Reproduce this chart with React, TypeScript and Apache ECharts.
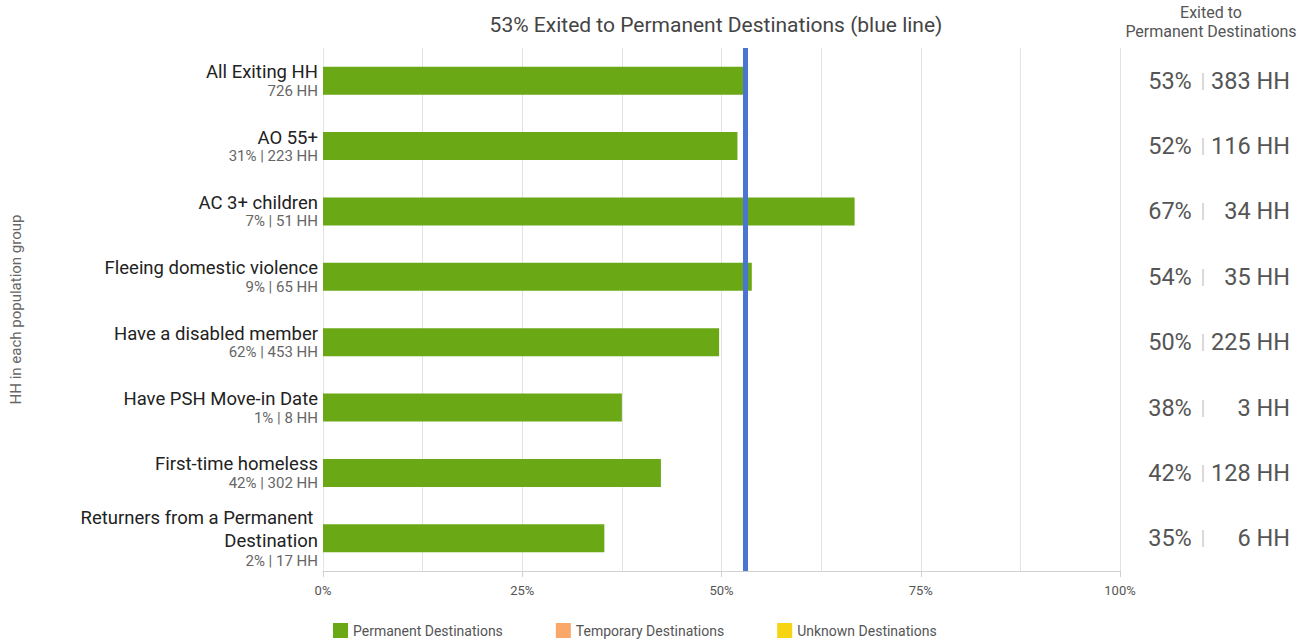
import React, { useEffect, useRef } from "react";
import * as echarts from "echarts";

const categories = [
  "All Exiting HH",
  "AO 55+",
  "AC 3+ children",
  "Fleeing domestic violence",
  "Have a disabled member",
  "Have PSH Move-in Date",
  "First-time homeless",
  "Returners from a Permanent Destination",
];
const subLabels = [
  "726 HH",
  "31% | 223 HH",
  "7% | 51 HH",
  "9% | 65 HH",
  "62% | 453 HH",
  "1% | 8 HH",
  "42% | 302 HH",
  "2% | 17 HH",
];
const permanentPct = [52.8, 52.0, 66.7, 53.8, 49.7, 37.5, 42.4, 35.3];
const temporaryPct = [0, 0, 0, 0, 0, 0, 0, 0];
const unknownPct = [0, 0, 0, 0, 0, 0, 0, 0];
const exitedPctLabels = ["53%", "52%", "67%", "54%", "50%", "38%", "42%", "35%"];
const exitedHHLabels = ["383 HH", "116 HH", "34 HH", "35 HH", "225 HH", "3 HH", "128 HH", "6 HH"];
const overallPct = 53;

export default function App() {
  const ref = useRef<HTMLDivElement>(null);
  useEffect(() => {
    document.body.style.margin = "0";
    const chart = echarts.init(ref.current!, null, { renderer: "svg" });
    const leftLabel = (value: string, idx: number) => {
      if (value === "Returners from a Permanent Destination") {
        return `{name2|Returners from a Permanent }\n{name2|Destination}\n{sub|${subLabels[idx]}}`;
      }
      return `{name|${value}}\n{sub|${subLabels[idx]}}`;
    };
    chart.setOption({
      animation: false,
      textStyle: { fontFamily: "Roboto" },
      title: [
        {
          text: "53% Exited to Permanent Destinations (blue line)",
          left: 711,
          top: 9,
          textAlign: "center",
          textStyle: { fontSize: 21, fontWeight: "normal", color: "#444", fontFamily: "Roboto" },
        },
        {
          text: "Exited to\nPermanent Destinations",
          left: 1206,
          top: -2,
          textAlign: "center",
          textStyle: { fontSize: 16, fontWeight: "normal", color: "#555", lineHeight: 19, fontFamily: "Roboto" },
        },
      ],
      legend: {
        left: 328,
        top: 618,
        itemWidth: 15,
        itemHeight: 15,
        itemGap: 53,
        icon: "rect",
        textStyle: { fontSize: 14, color: "#555" },
        data: ["Permanent Destinations", "Temporary Destinations", "Unknown Destinations"],
      },
      grid: { left: 321, right: 195, top: 48, bottom: 71, containLabel: false },
      xAxis: {
        type: "value",
        min: 0,
        max: 100,
        interval: 25,
        axisLine: { show: true, lineStyle: { color: "#d0d0d0" } },
        axisTick: { show: true, length: 6, lineStyle: { color: "#d0d0d0" } },
        splitLine: { show: true, lineStyle: { color: "#e3e3e3", width: 1 } },
        minorTick: { show: false, splitNumber: 2 },
        minorSplitLine: { show: true, lineStyle: { color: "#e3e3e3", width: 1 } },
        axisLabel: { formatter: "{value}%", color: "#555", fontSize: 13, margin: 13 },
      },
      yAxis: [
        {
          type: "category",
          data: categories,
          inverse: true,
          name: "HH in each population group",
          nameLocation: "middle",
          nameRotate: 90,
          nameGap: 300,
          nameTextStyle: { color: "#666", fontSize: 15 },
          axisLine: { show: false },
          axisTick: { show: false },
          axisLabel: {
            margin: 5,
            formatter: leftLabel,
            rich: {
              name: { fontSize: 18.5, color: "#222", lineHeight: 20, align: "right" },
              name2: { fontSize: 18.5, color: "#222", lineHeight: 23, align: "right" },
              sub: { fontSize: 15, color: "#666", lineHeight: 17, align: "right" },
            },
          },
        },
        {
          type: "category",
          data: categories,
          inverse: true,
          position: "right",
          axisLine: { show: false },
          axisTick: { show: false },
          axisLabel: {
            margin: 25,
            align: "left",
            formatter: (_v: string, idx: number) =>
              `{pct|${exitedPctLabels[idx]}}{sep||}{hh|${exitedHHLabels[idx]}}`,
            rich: {
              pct: { fontSize: 23.5, color: "#555", width: 50, align: "right" },
              sep: { fontSize: 20, color: "#d0d0d0", width: 16, align: "center" },
              hh: { fontSize: 23.5, color: "#555", width: 79, align: "right" },
            },
          },
        },
      ],
      series: [
        {
          name: "Permanent Destinations",
          type: "bar",
          stack: "dest",
          barWidth: 28,
          itemStyle: { color: "#6aa816" },
          data: permanentPct,
          markLine: {
            silent: true,
            symbol: "none",
            label: { show: false },
            lineStyle: { color: "#4a76d2", width: 5, type: "solid" },
            data: [{ xAxis: overallPct }],
          },
        },
        {
          name: "Temporary Destinations",
          type: "bar",
          stack: "dest",
          barWidth: 28,
          itemStyle: { color: "#f9a869" },
          data: temporaryPct,
        },
        {
          name: "Unknown Destinations",
          type: "bar",
          stack: "dest",
          barWidth: 28,
          itemStyle: { color: "#f7d411" },
          data: unknownPct,
        },
      ],
    });
    return () => chart.dispose();
  }, []);
  return <div ref={ref} style={{ width: 1315, height: 642 }} />;
}
